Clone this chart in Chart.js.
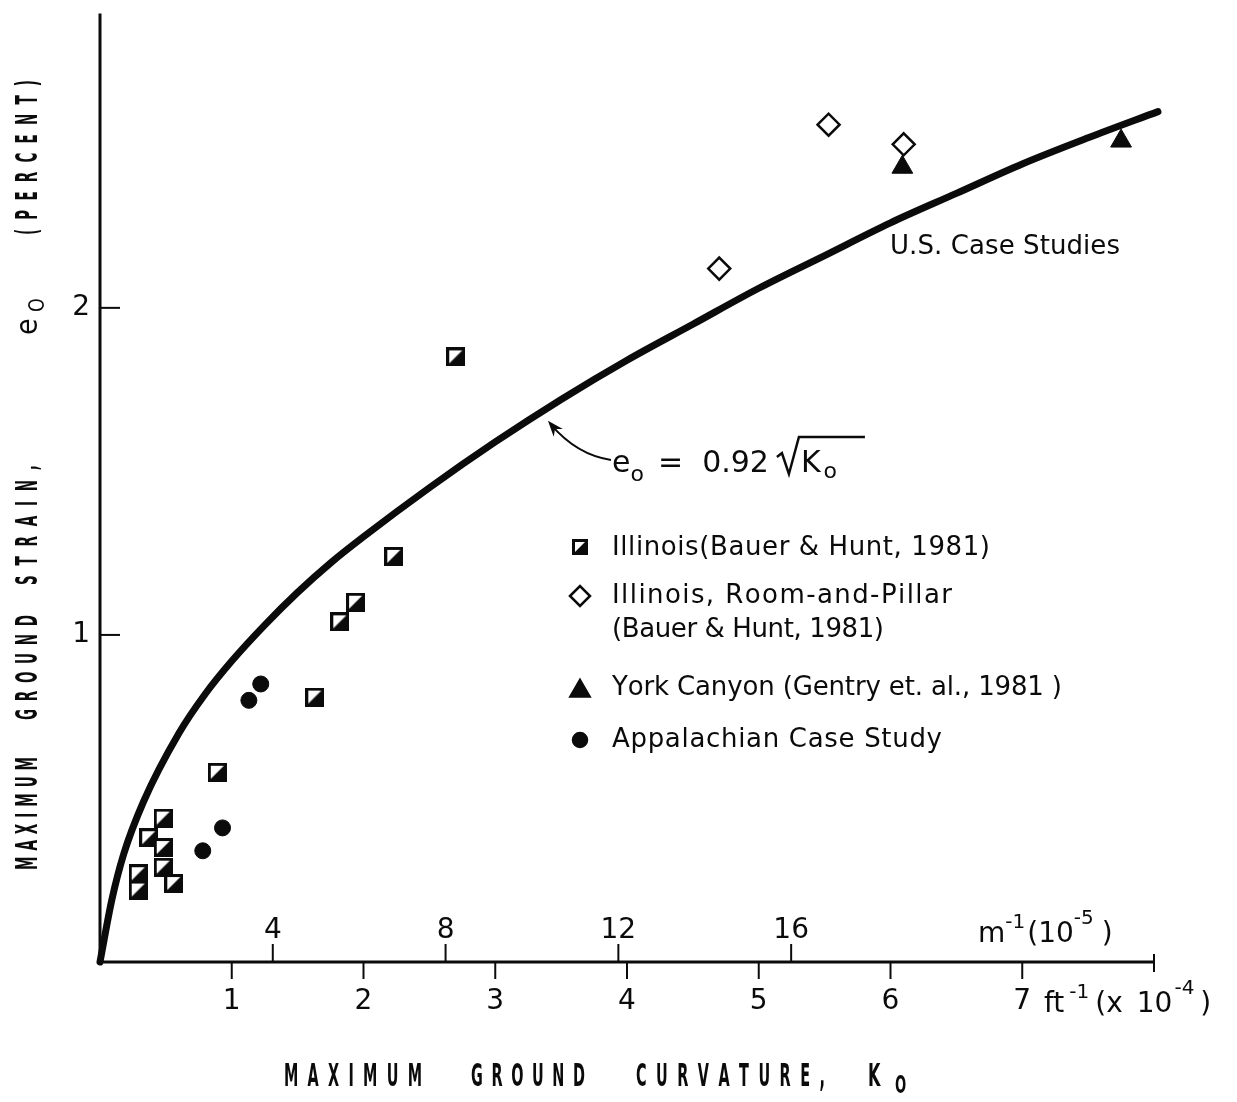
<!DOCTYPE html>
<html>
<head>
<meta charset="utf-8">
<script src="https://cdn.jsdelivr.net/npm/chart.js@4.4.0/dist/chart.umd.min.js"></script>
<style>
  html, body { margin: 0; padding: 0; background: #fff; }
  canvas { display: block; }
</style>
</head>
<body>
<canvas id="strain-chart" width="1237" height="1102"></canvas>
<script>
// K0 in ft^-1 (x 10^-4), e0 in percent
const illinoisK = [2.70, 2.23, 1.94, 1.82, 1.63, 0.89, 0.48, 0.37, 0.48, 0.48, 0.56, 0.29, 0.29];
const illinoisE = [1.85, 1.24, 1.10, 1.04, 0.81, 0.58, 0.44, 0.38, 0.35, 0.29, 0.24, 0.27, 0.22];

const roomPillarK = [5.53, 6.10, 4.70];
const roomPillarE = [2.56, 2.50, 2.12];

const yorkK = [6.09, 7.75];
const yorkE = [2.43, 2.51];

const appalachianK = [1.13, 1.22, 0.93, 0.78];
const appalachianE = [0.80, 0.85, 0.41, 0.34];

// fitted curve e0 = 0.92 sqrt(K0)
const curveK = [0, 0.09, 0.18, 0.33, 0.6, 0.8, 1.0, 1.25, 1.5, 1.75, 2.0, 2.5, 3.0, 3.5, 4.0, 4.5, 5.0, 5.5, 6.0, 6.5, 7.0, 7.5, 8.03];
const curveE = [0, 0.19, 0.33, 0.49, 0.70, 0.82, 0.92, 1.03, 1.13, 1.22, 1.30, 1.45, 1.59, 1.72, 1.84, 1.95, 2.06, 2.16, 2.26, 2.35, 2.44, 2.52, 2.60];

const ftTicks = [1, 2, 3, 4, 5, 6, 7];
const metricTicks = [4, 8, 12, 16];
const strainTicks = [1, 2];
const metricPerFt = 3.05; // m^-1(10^-5) units per ft^-1(10^-4) unit on this axis

const ink = '#0b0b0b';
const textFont = '"DejaVu Sans", sans-serif';

function pts(xs, ys) {
  return xs.map((x, i) => ({ x: x, y: ys[i] }));
}

// square marker, lower-right half filled
function halfSquare(size) {
  const c = document.createElement('canvas');
  c.width = size;
  c.height = size;
  const g = c.getContext('2d');
  g.fillStyle = '#fff';
  g.fillRect(0, 0, size, size);
  g.fillStyle = ink;
  g.beginPath();
  g.moveTo(size, 0);
  g.lineTo(size, size);
  g.lineTo(0, size);
  g.closePath();
  g.fill();
  g.strokeStyle = ink;
  g.lineWidth = 3;
  g.strokeRect(1.5, 1.5, size - 3, size - 3);
  return c;
}

// text pieces with their own size / vertical shift
function runs(ctx, parts, x, y) {
  parts.forEach(p => {
    ctx.font = p.f;
    ctx.fillText(p.t, x, y + (p.dy || 0));
    x += ctx.measureText(p.t).width + (p.gap || 0);
  });
  return x;
}

// narrow letters spread evenly from x0 to x1
function spread(ctx, text, x0, x1, y, sx) {
  const chars = [...text];
  const w = chars.map(ch => ctx.measureText(ch).width * sx);
  const total = w.reduce((a, b) => a + b, 0);
  const gap = chars.length > 1 ? (x1 - x0 - total) / (chars.length - 1) : 0;
  let x = x0;
  chars.forEach((ch, i) => {
    ctx.save();
    ctx.translate(x, y);
    ctx.scale(sx, 1);
    ctx.fillText(ch, 0, 0);
    ctx.restore();
    x += w[i] + gap;
  });
}

// plain text stretched to a given width by letter gaps
function spaced(ctx, text, x, y, width) {
  spread(ctx, text, x, x + width, y, 1);
}

const squareMark = halfSquare(19);
const squareLegend = halfSquare(16);

const paperAxes = {
  id: 'paperAxes',
  beforeDatasetsDraw(chart) {
    const ctx = chart.ctx;
    const xs = chart.scales.x, ys = chart.scales.y;
    const x0 = xs.getPixelForValue(0), y0 = ys.getPixelForValue(0);
    const xEnd = xs.getPixelForValue(xs.max), yTop = ys.getPixelForValue(ys.max);

    ctx.save();
    ctx.strokeStyle = ink;
    ctx.fillStyle = ink;
    ctx.lineCap = 'butt';

    // axis lines
    ctx.lineWidth = 3;
    ctx.beginPath();
    ctx.moveTo(x0, yTop);
    ctx.lineTo(x0, y0);
    ctx.lineTo(xEnd, y0);
    ctx.stroke();
    ctx.lineWidth = 2;
    ctx.beginPath();
    ctx.moveTo(xEnd, y0 - 8);
    ctx.lineTo(xEnd, y0 + 10);
    ctx.stroke();

    ctx.textAlign = 'center';
    ctx.textBaseline = 'middle';
    ctx.font = '28px ' + textFont;

    // ft^-1 ticks under the axis
    ftTicks.forEach(v => {
      const px = xs.getPixelForValue(v);
      ctx.beginPath();
      ctx.moveTo(px, y0);
      ctx.lineTo(px, y0 + 17);
      ctx.stroke();
      ctx.fillText(String(v), px, y0 + 40);
    });

    // m^-1 ticks above the axis
    metricTicks.forEach(v => {
      const px = xs.getPixelForValue(v / metricPerFt);
      ctx.beginPath();
      ctx.moveTo(px, y0);
      ctx.lineTo(px, y0 - 18);
      ctx.stroke();
      ctx.fillText(String(v), px, y0 - 31);
    });

    // strain ticks
    ctx.textAlign = 'right';
    strainTicks.forEach(v => {
      const py = ys.getPixelForValue(v);
      ctx.beginPath();
      ctx.moveTo(x0, py);
      ctx.lineTo(x0 + 20, py);
      ctx.stroke();
      ctx.fillText(String(v), x0 - 10, py);
    });

    // unit labels
    ctx.textAlign = 'left';
    ctx.textBaseline = 'alphabetic';
    const big = '28px ' + textFont, sup = '20px ' + textFont;
    runs(ctx, [
      { t: 'm', f: big },
      { t: '-1', f: sup, dy: -14, gap: 2 },
      { t: '(10', f: big },
      { t: '-5', f: sup, dy: -18, gap: 8 },
      { t: ')', f: big }
    ], 978, y0 - 20);
    runs(ctx, [
      { t: 'ft', f: big, gap: 5 },
      { t: '-1', f: sup, dy: -14, gap: 6 },
      { t: '(x', f: big, gap: 14 },
      { t: '10', f: big, gap: 2 },
      { t: '-4', f: sup, dy: -18, gap: 6 },
      { t: ')', f: big }
    ], 1044, y0 + 50);

    // axis titles
    ctx.textBaseline = 'middle';
    ctx.font = 'bold 32px ' + textFont;
    const ty = 1078;
    spread(ctx, 'MAXIMUM', 284, 422, ty, 0.45);
    spread(ctx, 'GROUND', 471, 585, ty, 0.45);
    spread(ctx, 'CURVATURE,', 636, 825, ty, 0.45);
    spread(ctx, 'K', 868, 890, ty, 0.5);
    ctx.font = 'bold 24px ' + textFont;
    spread(ctx, 'O', 895, 910, ty + 9, 0.55);

    ctx.save();
    ctx.translate(29, 0);
    ctx.rotate(-Math.PI / 2);
    ctx.font = 'bold 30px ' + textFont;
    spread(ctx, 'MAXIMUM', -870, -757, 0, 0.45);
    spread(ctx, 'GROUND', -720, -615, 0, 0.45);
    spread(ctx, 'STRAIN,', -585, -465, 0, 0.45);
    spread(ctx, '(PERCENT)', -235, -80, 0, 0.45);
    ctx.font = '30px ' + textFont;
    spread(ctx, 'e', -335, -317, 0, 0.9);
    ctx.font = '22px ' + textFont;
    spread(ctx, 'O', -312, -298, 9, 0.8);
    ctx.restore();

    // curve annotations
    ctx.textBaseline = 'middle';
    ctx.font = '26px ' + textFont;
    spaced(ctx, 'U.S. Case Studies', 890, 247, 230);

    ctx.textBaseline = 'alphabetic';
    const eqEnd = runs(ctx, [
      { t: 'e', f: '30px ' + textFont },
      { t: 'o', f: '22px ' + textFont, dy: 9, gap: 14 },
      { t: '=  0.92', f: '30px ' + textFont, gap: 8 }
    ], 612, 472);
    // radical sign over K0
    ctx.lineWidth = 2.5;
    ctx.beginPath();
    ctx.moveTo(eqEnd, 457);
    ctx.lineTo(eqEnd + 5, 453);
    ctx.lineTo(eqEnd + 12, 474);
    ctx.lineTo(eqEnd + 22, 437);
    ctx.lineTo(eqEnd + 88, 437);
    ctx.stroke();
    runs(ctx, [
      { t: 'K', f: '30px ' + textFont, gap: 3 },
      { t: 'o', f: '22px ' + textFont, dy: 6 }
    ], eqEnd + 24, 472);

    // leader arrow to the curve
    const ax = xs.getPixelForValue(3.4), ay = ys.getPixelForValue(1.655);
    const cx = 577, cy = 455;
    ctx.lineWidth = 2;
    ctx.beginPath();
    ctx.moveTo(611, 460);
    ctx.quadraticCurveTo(cx, cy, ax + 3, ay + 4);
    ctx.stroke();
    const ang = Math.atan2(ay - cy, ax - cx);
    ctx.beginPath();
    ctx.moveTo(ax, ay);
    ctx.lineTo(ax - 16 * Math.cos(ang) + 6 * Math.sin(ang), ay - 16 * Math.sin(ang) - 6 * Math.cos(ang));
    ctx.lineTo(ax - 11 * Math.cos(ang), ay - 11 * Math.sin(ang));
    ctx.lineTo(ax - 16 * Math.cos(ang) - 6 * Math.sin(ang), ay - 16 * Math.sin(ang) + 6 * Math.cos(ang));
    ctx.closePath();
    ctx.fill();

    // key
    const draw = Chart.helpers.drawPoint;
    const mx = 580;
    ctx.lineWidth = 2.5;
    ctx.fillStyle = ink;
    draw(ctx, { pointStyle: squareLegend, radius: 8, rotation: 0, borderWidth: 0 }, mx, 547);
    ctx.fillStyle = '#fff';
    draw(ctx, { pointStyle: 'rectRot', radius: 10, rotation: 0, borderWidth: 2.5 }, mx, 596);
    ctx.fillStyle = ink;
    draw(ctx, { pointStyle: 'triangle', radius: 11, rotation: 0, borderWidth: 1 }, mx, 691);
    draw(ctx, { pointStyle: 'circle', radius: 7, rotation: 0, borderWidth: 1 }, mx, 740);

    ctx.fillStyle = ink;
    ctx.textBaseline = 'middle';
    ctx.font = '26px ' + textFont;
    spaced(ctx, 'Illinois(Bauer & Hunt, 1981)', 612, 548, 378);
    spaced(ctx, 'Illinois, Room-and-Pillar', 612, 596, 340);
    spaced(ctx, '(Bauer & Hunt, 1981)', 612, 630, 272);
    spaced(ctx, 'York Canyon (Gentry et. al., 1981 )', 612, 688, 450);
    spaced(ctx, 'Appalachian Case Study', 612, 740, 330);

    ctx.restore();
  }
};

new Chart(document.getElementById('strain-chart'), {
  type: 'scatter',
  data: {
    datasets: [
      {
        label: 'e0 = 0.92 √K0',
        data: pts(curveK, curveE),
        showLine: true,
        borderColor: ink,
        borderWidth: 7,
        borderCapStyle: 'round',
        pointRadius: 0,
        cubicInterpolationMode: 'monotone',
        clip: false
      },
      {
        label: 'Illinois(Bauer & Hunt, 1981)',
        data: pts(illinoisK, illinoisE),
        pointStyle: squareMark,
        pointRadius: 10
      },
      {
        label: 'Illinois, Room-and-Pillar (Bauer & Hunt, 1981)',
        data: pts(roomPillarK, roomPillarE),
        pointStyle: 'rectRot',
        pointRadius: 11,
        backgroundColor: '#fff',
        borderColor: ink,
        borderWidth: 2.5
      },
      {
        label: 'York Canyon (Gentry et. al., 1981 )',
        data: pts(yorkK, yorkE),
        pointStyle: 'triangle',
        pointRadius: 12,
        backgroundColor: ink,
        borderColor: ink,
        borderWidth: 1
      },
      {
        label: 'Appalachian Case Study',
        data: pts(appalachianK, appalachianE),
        pointStyle: 'circle',
        pointRadius: 8,
        backgroundColor: ink,
        borderColor: ink,
        borderWidth: 1
      }
    ]
  },
  options: {
    responsive: false,
    animation: false,
    devicePixelRatio: 1,
    events: [],
    layout: { padding: { left: 100, right: 83, top: 11, bottom: 140 } },
    scales: {
      x: { type: 'linear', min: 0, max: 8, display: false },
      y: { type: 'linear', min: 0, max: 2.9, display: false }
    },
    plugins: {
      legend: { display: false },
      tooltip: { enabled: false }
    }
  },
  plugins: [paperAxes]
});
</script>
</body>
</html>
